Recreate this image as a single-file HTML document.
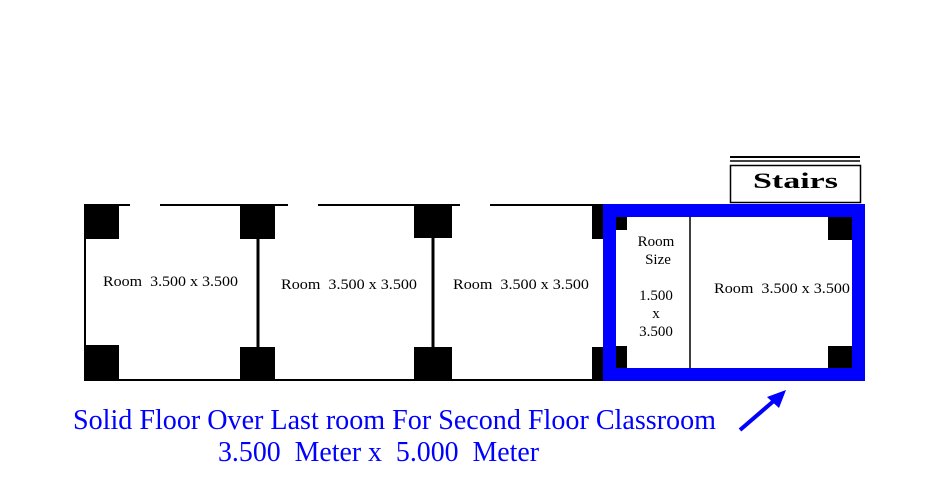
<!DOCTYPE html>
<html><head><meta charset="utf-8"><style>html,body{margin:0;padding:0;background:#fff}svg{display:block}text{white-space:pre}</style></head>
<body>
<svg width="947" height="496" viewBox="0 0 947 496" xmlns="http://www.w3.org/2000/svg" font-family="Liberation Serif, serif" xml:space="preserve">
<rect width="947" height="496" fill="#fff"/>
<g stroke="#000" stroke-width="2">
<line x1="84" y1="205" x2="130" y2="205"/>
<line x1="160" y1="205" x2="288" y2="205"/>
<line x1="318" y1="205" x2="460" y2="205"/>
<line x1="490" y1="205" x2="604" y2="205"/>
<line x1="84" y1="380" x2="604" y2="380"/>
<line x1="85" y1="205" x2="85" y2="380"/>
<line x1="258" y1="205" x2="258" y2="380" stroke-width="3"/>
<line x1="433" y1="205" x2="433" y2="380" stroke-width="3"/>
</g>
<g fill="#000">
<rect x="84" y="204" width="35" height="35"/>
<rect x="84" y="345" width="35" height="36"/>
<rect x="240" y="204" width="35" height="35"/>
<rect x="240" y="347" width="35" height="34"/>
<rect x="414" y="204" width="38" height="34"/>
<rect x="414" y="347" width="38" height="34"/>
<rect x="592" y="205" width="12" height="34"/>
<rect x="592" y="347" width="12" height="34"/>
<rect x="616" y="217" width="11" height="13"/>
<rect x="616" y="346" width="11" height="22"/>
<rect x="828" y="217" width="24" height="23"/>
<rect x="828" y="346" width="24" height="22"/>
</g>
<rect x="609.5" y="210.5" width="249" height="164" fill="none" stroke="#0000ff" stroke-width="13"/>
<line x1="690" y1="217" x2="690" y2="368" stroke="#000" stroke-width="1.5"/>
<g stroke="#000">
<line x1="730" y1="157" x2="860" y2="157" stroke-width="2"/>
<line x1="730" y1="161" x2="860" y2="161" stroke-width="1.5"/>
<rect x="730.5" y="165.5" width="130" height="37" fill="none" stroke-width="1.5"/>
</g>
<text x="753" y="188" font-size="22" font-weight="bold" textLength="85" lengthAdjust="spacingAndGlyphs">Stairs</text>
<g font-size="15" fill="#000">
<text x="103" y="286" textLength="135" lengthAdjust="spacingAndGlyphs">Room  3.500 x 3.500</text>
<text x="281" y="289" textLength="136" lengthAdjust="spacingAndGlyphs">Room  3.500 x 3.500</text>
<text x="453" y="289" textLength="136" lengthAdjust="spacingAndGlyphs">Room  3.500 x 3.500</text>
<text x="714" y="293" textLength="136" lengthAdjust="spacingAndGlyphs">Room  3.500 x 3.500</text>
<g text-anchor="middle">
<text x="656" y="246">Room</text>
<text x="658" y="264">Size</text>
<text x="656" y="300">1.500</text>
<text x="656" y="318">x</text>
<text x="656" y="336">3.500</text>
</g>
</g>
<g fill="#0000ff" font-size="29">
<text x="73" y="429" textLength="643" lengthAdjust="spacingAndGlyphs">Solid Floor Over Last room For Second Floor Classroom</text>
<text x="218" y="461" textLength="321" lengthAdjust="spacingAndGlyphs">3.500  Meter x  5.000  Meter</text>
</g>
<line x1="740" y1="430" x2="776" y2="399" stroke="#0000ff" stroke-width="4"/>
<polygon points="786,390 767,397 779,408" fill="#0000ff"/>
</svg>
</body></html>
